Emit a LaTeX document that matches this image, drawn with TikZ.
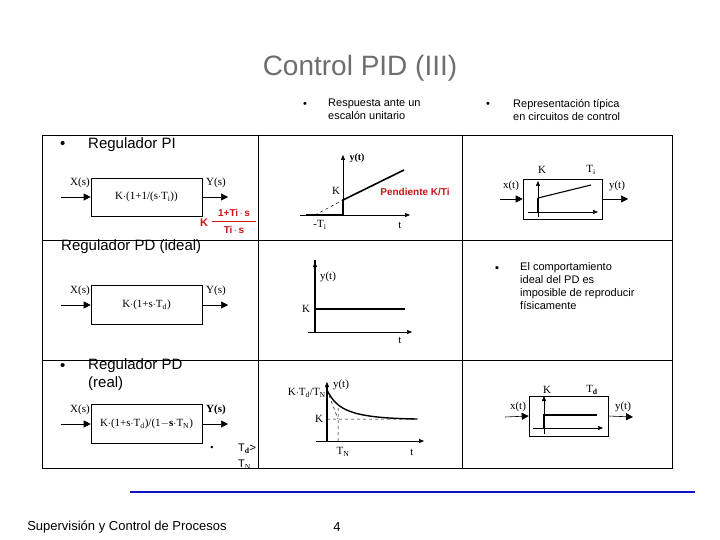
\documentclass[tikz,border=0pt]{standalone}
\usepackage{fontspec}
\setmainfont{Liberation Serif}
\setsansfont{Liberation Sans}
\usetikzlibrary{arrows.meta}
\definecolor{titlegray}{RGB}{110,110,110}
\definecolor{pidred}{RGB}{200,20,20}
\definecolor{footblue}{RGB}{20,20,200}
\begin{document}
\begin{tikzpicture}[x=1pt,y=-1pt,
  sf/.style={font=\sffamily\fontsize{11}{13}\selectfont,inner sep=0pt},
  big/.style={font=\sffamily\fontsize{15}{18}\selectfont,inner sep=0pt,anchor=west},
  lbl/.style={font=\rmfamily\fontsize{11}{12}\selectfont,inner sep=1pt},
  blk/.style={draw,line width=0.6pt,inner sep=0pt,font=\rmfamily\fontsize{11}{12}\selectfont},
  sig/.style={-{Triangle[length=7pt,width=7pt]},line width=0.6pt},
  ax/.style={-{Triangle[length=5pt,width=4pt]},line width=0.5pt},
  thk/.style={line width=1.6pt},
  red/.style={text=pidred,font=\sffamily\bfseries\fontsize{10}{11}\selectfont,inner sep=0pt}]
\useasboundingbox (0,0) rectangle (720,540);
\node[text=titlegray,font=\sffamily\fontsize{28}{32}\selectfont] (title) at (360,68) {Control PID (III)};
\node[sf] (b1) at (305,105) {•};
\node[sf,anchor=north west,align=left] (h1) at (328,99) {Respuesta ante un\\escalón unitario};
\node[sf] (b2) at (488,105) {•};
\node[sf,anchor=north west,align=left] (h2) at (513,99) {Representación típica\\en circuitos de control};
% table
\draw[line width=0.8pt] (42,135) rectangle (672,468);
\draw[line width=0.8pt] (258,135) -- (258,468) (462,135) -- (462,468) (42,240) -- (672,240) (42,360) -- (672,360);
% cell 1
\node[big] (bp) at (60,145) {•};
\node[big] (rpi) at (88,145) {Regulador PI};
\node[blk,minimum width=111pt,minimum height=38pt] (k1) at (146.5,197) {K$\cdot$(1+1/(s$\cdot$T$_{\mathrm i}$))};
\coordinate (i1) at (61,197); \coordinate (o1) at (228,197);
\draw[sig] (i1) -- (k1.west); \draw[sig] (k1.east) -- (o1);
\node[lbl] (x1) at (80,183) {X(s)}; \node[lbl] (y1) at (216,183) {Y(s)};
\node[red,font=\sffamily\bfseries\fontsize{11}{11}\selectfont] (kr) at (204,223) {K};
\node[red] (num) at (234,213) {1+Ti$\,\cdot\,$s};
\node[red] (den) at (234,230) {Ti$\,\cdot\,$s};
\draw[pidred,line width=1.8pt] (212,221.5) -- (256,221.5);
% cell 2
\coordinate (o2) at (343,215);
\coordinate (ya2) at (343,155); \coordinate (xl2) at (300,215); \coordinate (xr2) at (410,215);
\draw[ax] (o2) -- (ya2); \draw[ax] (xl2) -- (xr2);
\draw[thk] (306,215) -- (o2) -- (343,200) -- (404,170);
\draw[dashed,line width=0.5pt] (315,215) -- (343,200);
\node[lbl,font=\rmfamily\bfseries\fontsize{10}{12}\selectfont] (yt2) at (357,158) {y(t)};
\node[lbl] (k2) at (336,191) {K};
\node[red] (pend) at (415,192) {Pendiente K/Ti};
\node[lbl] (ti2) at (320,225) {-T$_{\mathrm i}$};
\node[lbl] (t2) at (400,225) {t};
% cell 3
\node[draw,line width=0.6pt,minimum width=79pt,minimum height=40pt,inner sep=0pt] (bx3) at (562.5,199) {};
\draw[sig] (500,199) -- (bx3.west); \draw[sig] (bx3.east) -- (628,199);
\draw[ax] (538,217) -- (538,181); \draw[ax] (528,212) -- (598,212);
\draw[thk] (538,212) -- (538,198); \draw[line width=1.1pt] (538,198) -- (591,185);
\node[lbl] (x3) at (511,186) {x(t)}; \node[lbl] (y3) at (617,186) {y(t)};
\node[lbl] (k3) at (542,170) {K}; \node[lbl] (t3) at (591,170) {T$_{\mathrm i}$};
% cell 4
\node[big] (rpd) at (61,247) {Regulador PD (ideal)};
\node[blk,minimum width=111pt,minimum height=39pt] (k4) at (146.5,305) {K$\cdot$(1+s$\cdot$T$_{\mathrm d}$)};
\draw[sig] (61,305) -- (k4.west); \draw[sig] (k4.east) -- (228,305);
\node[lbl] (x4) at (80,291) {X(s)}; \node[lbl] (y4) at (216,291) {Y(s)};
% cell 5
\draw[ax] (315,332) -- (315,262);
\draw[ax] (308,332) -- (412,332);
\draw[thk] (315,332) -- (315,260);
\draw[line width=1.1pt] (315,309) -- (405,309);
\node[lbl] (yt5) at (328,277) {y(t)}; \node[lbl] (k5) at (306,309) {K}; \node[lbl] (t5) at (400,340) {t};
% cell 6
\node[sf] (b6) at (497,269) {▪};
\node[sf,anchor=north west,align=left] (txt6) at (520,262) {El comportamiento\\ideal del PD es\\imposible de reproducir\\físicamente};
% cell 7
\node[big] (bp7) at (60,367) {•};
\node[big,align=left,anchor=north west] (rpr) at (88,358) {Regulador PD\\(real)};
\node[blk,minimum width=111pt,minimum height=39pt] (k7) at (146.5,424) {K$\cdot$(1+s$\cdot$T$_{\mathrm d}$)/(1$-$\textbf{s}$\cdot$T$_{\mathrm N}$)};
\draw[sig] (61,424) -- (k7.west); \draw[sig] (k7.east) -- (228,424);
\node[lbl] (x7) at (80,410) {X(s)}; \node[lbl,font=\rmfamily\bfseries\fontsize{11}{12}\selectfont] (y7) at (216,410) {Y(s)};
\node[sf,font=\sffamily\fontsize{9}{10}\selectfont] (b7) at (212,448) {•};
\node[sf,anchor=west] (td7) at (238,449) {T$_{\mathbf d}$>};
\node[sf,anchor=west] (tn7) at (238,465) {T$_{\mathrm N}$};
% cell 8
\draw[ax] (316,441) -- (424,441);
\draw[thk] (327,441) -- (327,385);
\draw[ax] (327,390) -- (327,382);
\draw[dashed,line width=0.5pt] (327,419) -- (418,419) (338,408) -- (338,441) (327,390) -- (338,419);
\draw[line width=1.4pt] (327,390) .. controls (337,410) and (350,418) .. (417,419);
\node[lbl,anchor=east] (ktn) at (327,393) {K$\cdot$T$_{\mathrm d}$/T$_{\mathrm N}$};
\node[lbl] (yt8) at (341,385) {y(t)}; \node[lbl] (k8) at (319,419) {K};
\node[lbl] (tn8) at (343,452) {T$_{\mathrm N}$}; \node[lbl] (t8) at (412,452) {t};
% cell 9
\node[draw,line width=0.6pt,minimum width=79pt,minimum height=40pt,inner sep=0pt] (bx9) at (568.5,416) {};
\draw[sig] (505,417) -- (bx9.west); \draw[sig] (bx9.east) -- (633,417);
\draw[ax] (544,434) -- (544,396); \draw[ax] (533,428) -- (603,428);
\draw[line width=1.1pt] (544,428) -- (544,415) -- (597,415);
\node[lbl] (x9) at (518,407) {x(t)}; \node[lbl] (y9) at (623,407) {y(t)};
\node[lbl] (k9) at (547,390) {K}; \node[lbl] (t9) at (592,390) {T$_{\mathbf d}$};
% footer
\draw[footblue,line width=2.5pt] (130,492) -- (695,492);
\node[sf,font=\sffamily\fontsize{13}{15}\selectfont] (foot) at (127,527) {Supervisión y Control de Procesos};
\node[sf,font=\sffamily\fontsize{13}{15}\selectfont] (pg) at (337,527) {4};
\end{tikzpicture}
\end{document}
